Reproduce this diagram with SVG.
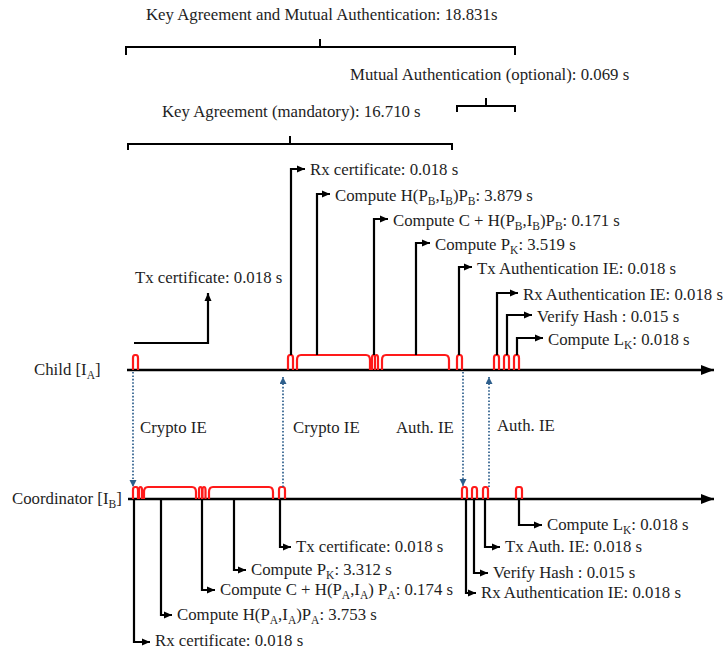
<svg xmlns="http://www.w3.org/2000/svg" width="723" height="654" viewBox="0 0 723 654">
<style>
text{font-family:"Liberation Serif","Times New Roman",serif;font-size:16.8px;fill:#1e1e1e}
.s{font-size:11.5px}
.ax{stroke:#000;stroke-width:2.6;fill:none}
.ld{stroke:#000;stroke-width:2.2;fill:none}
.p{stroke:#ff1a1a;stroke-width:2.2;fill:none;stroke-linejoin:round}
.br{stroke:#000;stroke-width:2;fill:none}
.dt{stroke:#2e5f8c;stroke-width:1.7;stroke-dasharray:1.6 1.8;fill:none}
</style>
<defs>
<marker id="ah" markerUnits="userSpaceOnUse" markerWidth="9" markerHeight="8" refX="8" refY="4" orient="auto"><path d="M0,0.5 L8,4 L0,7.5 z" fill="#000"/></marker>
<marker id="bh" markerUnits="userSpaceOnUse" markerWidth="8" markerHeight="8" refX="7" refY="3.5" orient="auto"><path d="M0,0 L7,3.5 L0,7 z" fill="#2e5f8c"/></marker>
<marker id="ax" markerUnits="userSpaceOnUse" markerWidth="14" markerHeight="10" refX="13" refY="5" orient="auto"><path d="M0,0 L13,5 L0,10 z" fill="#000"/></marker>
</defs>

<g id="braces">
<path class="br" d="M126,55 V47 H515 V55 M320,47 V39"/>
<text x="146" y="20">Key Agreement and Mutual Authentication: 18.831s</text>
<path class="br" d="M457,112 V106 H515 V112 M486,106 V98"/>
<text x="350" y="80">Mutual Authentication (optional): 0.069 s</text>
<path class="br" d="M128,150 V144 H452 V150 M290,144 V136"/>
<text x="162" y="117">Key Agreement (mandatory): 16.710 s</text>
</g>

<g id="child">
<text x="34" y="375">Child [I<tspan class="s" dy="4">A</tspan><tspan dy="-4">]</tspan></text>
<path class="ax" d="M127,370 H714" marker-end="url(#ax)"/>
</g>
<g id="coordinator">
<text x="12" y="504">Coordinator [I<tspan class="s" dy="4">B</tspan><tspan dy="-4">]</tspan></text>
<path class="ax" d="M128,499 H714" marker-end="url(#ax)"/>
</g>

<!-- child events -->
<g id="c-tx-cert">
<path class="p" d="M133,370 V358 Q133,355 135,355 H136 Q138,355 138,358 V370"/>
<path class="ld" d="M134,343 H208 V293" marker-end="url(#ah)"/>
<text x="135" y="283">Tx certificate: 0.018 s</text>
</g>
<g id="c-rx-cert">
<path class="p" d="M288,370 V358 Q288,355 290,355 H291 Q293,355 293,358 V370"/>
<path class="ld" d="M291,355 V169 H305" marker-end="url(#ah)"/>
<text x="310" y="175">Rx certificate: 0.018 s</text>
</g>
<g id="c-compute-h">
<path class="p" d="M297,370 V360 Q297,355 301,355 H366 Q370,355 370,360 V370"/>
<path class="ld" d="M317,355 V194 H330" marker-end="url(#ah)"/>
<text x="335" y="201">Compute H(P<tspan class="s" dy="4">B</tspan><tspan dy="-4">,I</tspan><tspan class="s" dy="4">B</tspan><tspan dy="-4">)P</tspan><tspan class="s" dy="4">B</tspan><tspan dy="-4">: 3.879 s</tspan></text>
</g>
<g id="c-compute-c">
<path class="p" d="M372,370 V358 Q372,355 373.5,355 Q375,355 375,358 V370 M375,370 V358 Q375,355 376.5,355 Q378,355 378,358 V370"/>
<path class="ld" d="M374,355 V219 H388" marker-end="url(#ah)"/>
<text x="393" y="226">Compute C + H(P<tspan class="s" dy="4">B</tspan><tspan dy="-4">,I</tspan><tspan class="s" dy="4">B</tspan><tspan dy="-4">)P</tspan><tspan class="s" dy="4">B</tspan><tspan dy="-4">: 0.171 s</tspan></text>
</g>
<g id="c-compute-pk">
<path class="p" d="M382,370 V360 Q382,355 386,355 H445 Q449,355 449,360 V370"/>
<path class="ld" d="M416,355 V243 H430" marker-end="url(#ah)"/>
<text x="435" y="250">Compute P<tspan class="s" dy="4">K</tspan><tspan dy="-4">: 3.519 s</tspan></text>
</g>
<g id="c-tx-auth">
<path class="p" d="M457,370 V358 Q457,355 459,355 H460 Q462,355 462,358 V370"/>
<path class="ld" d="M459,355 V267 H472" marker-end="url(#ah)"/>
<text x="477" y="274">Tx Authentication IE: 0.018 s</text>
</g>
<g id="c-rx-auth">
<path class="p" d="M494,370 V358 Q494,355 496,355 H497 Q499,355 499,358 V370"/>
<path class="ld" d="M497,355 V293 H518" marker-end="url(#ah)"/>
<text x="523" y="300">Rx Authentication IE: 0.018 s</text>
</g>
<g id="c-verify">
<path class="p" d="M504,370 V358 Q504,355 506,355 H507 Q509,355 509,358 V370"/>
<path class="ld" d="M507,355 V315 H532" marker-end="url(#ah)"/>
<text x="537" y="322">Verify Hash : 0.015 s</text>
</g>
<g id="c-compute-lk">
<path class="p" d="M514,370 V358 Q514,355 516,355 H517 Q519,355 519,358 V370"/>
<path class="ld" d="M517,355 V338 H543" marker-end="url(#ah)"/>
<text x="548" y="345">Compute L<tspan class="s" dy="4">K</tspan><tspan dy="-4">: 0.018 s</tspan></text>
</g>

<!-- coordinator events -->
<g id="k-rx-cert">
<path class="p" d="M133,499 V490 Q133,487 135,487 H136 Q138,487 138,490 V499"/>
<path class="ld" d="M134,499 V642 H150" marker-end="url(#ah)"/>
<text x="155" y="646">Rx certificate: 0.018 s</text>
</g>
<g id="k-compute-h">
<path class="p" d="M139,499 V490 Q139,487 140.5,487 Q142,487 142,490 V499 M144,499 V492 Q144,487 148,487 H192 Q196,487 196,492 V499"/>
<path class="ld" d="M161,499 V615 H172" marker-end="url(#ah)"/>
<text x="177" y="620">Compute H(P<tspan class="s" dy="4">A</tspan><tspan dy="-4">,I</tspan><tspan class="s" dy="4">A</tspan><tspan dy="-4">)P</tspan><tspan class="s" dy="4">A</tspan><tspan dy="-4">: 3.753 s</tspan></text>
</g>
<g id="k-compute-c">
<path class="p" d="M199,499 V490 Q199,487 200.5,487 Q202,487 202,490 V499 M202.5,499 V490 Q202.5,487 204,487 Q205.5,487 205.5,490 V499"/>
<path class="ld" d="M202,499 V590 H215" marker-end="url(#ah)"/>
<text x="220" y="595">Compute C + H(P<tspan class="s" dy="4">A</tspan><tspan dy="-4">,I</tspan><tspan class="s" dy="4">A</tspan><tspan dy="-4">) P</tspan><tspan class="s" dy="4">A</tspan><tspan dy="-4">: 0.174 s</tspan></text>
</g>
<g id="k-compute-pk">
<path class="p" d="M209,499 V492 Q209,487 213,487 H269 Q273,487 273,492 V499"/>
<path class="ld" d="M234,499 V570 H246" marker-end="url(#ah)"/>
<text x="251" y="575">Compute P<tspan class="s" dy="4">K</tspan><tspan dy="-4">: 3.312 s</tspan></text>
</g>
<g id="k-tx-cert">
<path class="p" d="M279,499 V490 Q279,487 281,487 H283 Q285,487 285,490 V499"/>
<path class="ld" d="M280,499 V547 H291" marker-end="url(#ah)"/>
<text x="296" y="552">Tx certificate: 0.018 s</text>
</g>
<g id="k-rx-auth">
<path class="p" d="M462,499 V490 Q462,487 464,487 H465 Q467,487 467,490 V499"/>
<path class="ld" d="M466,499 V593 H476" marker-end="url(#ah)"/>
<text x="481" y="598">Rx Authentication IE: 0.018 s</text>
</g>
<g id="k-verify">
<path class="p" d="M472,499 V490 Q472,487 474,487 H475 Q477,487 477,490 V499"/>
<path class="ld" d="M474,499 V573 H488" marker-end="url(#ah)"/>
<text x="493" y="578">Verify Hash : 0.015 s</text>
</g>
<g id="k-tx-auth">
<path class="p" d="M483,499 V490 Q483,487 485,487 H486 Q488,487 488,490 V499"/>
<path class="ld" d="M485,499 V547 H500" marker-end="url(#ah)"/>
<text x="505" y="552">Tx Auth. IE: 0.018 s</text>
</g>
<g id="k-compute-lk">
<path class="p" d="M516,499 V490 Q516,487 518,487 H520 Q522,487 522,490 V499"/>
<path class="ld" d="M519,499 V525 H542" marker-end="url(#ah)"/>
<text x="547" y="530">Compute L<tspan class="s" dy="4">K</tspan><tspan dy="-4">: 0.018 s</tspan></text>
</g>

<g id="connectors">
<path class="dt" d="M133,372 V487" marker-end="url(#bh)"/>
<path class="dt" d="M283,487 V377" marker-end="url(#bh)"/>
<path class="dt" d="M463,372 V486" marker-end="url(#bh)"/>
<path class="dt" d="M489,487 V377" marker-end="url(#bh)"/>
<text x="140" y="433">Crypto IE</text>
<text x="293" y="433">Crypto IE</text>
<text x="396" y="433">Auth. IE</text>
<text x="497" y="431">Auth. IE</text>
</g>
</svg>
